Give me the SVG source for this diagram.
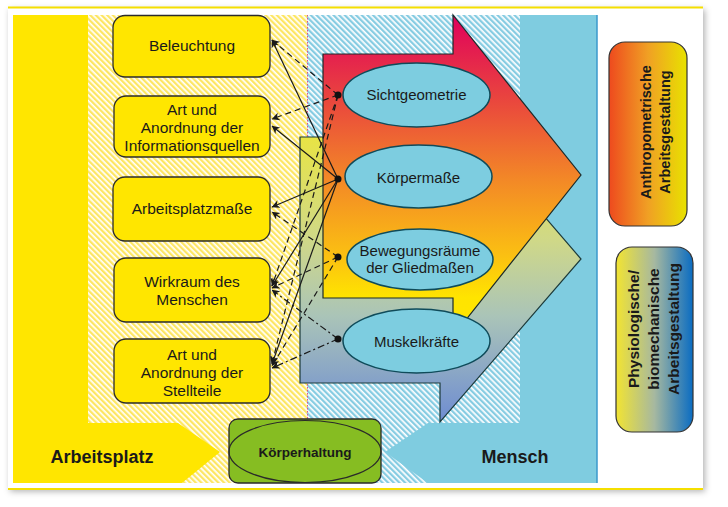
<svg xmlns="http://www.w3.org/2000/svg" width="728" height="507" viewBox="0 0 728 507">
<defs>
<style>
text{font-family:"Liberation Sans",Arial,sans-serif;fill:#1a1a1a;text-anchor:middle}
.bx{fill:#ffe600;stroke:#2b2b2b;stroke-width:1.3}
.bt{font-size:15.5px}
.el{fill:#7dcde0;stroke:#0f4b5a;stroke-width:1.5}
.et{font-size:15px}
.c{fill:none;stroke:#1a1a1a;stroke-width:1.2;marker-end:url(#ah)}
.d{stroke-dasharray:6 4}
.dd{stroke-dasharray:7 3 2 3}
.dot{fill:#111}
.big{font-size:18px;font-weight:bold}
.lg{font-weight:bold}
</style>
<pattern id="hy" width="4" height="4" patternUnits="userSpaceOnUse" patternTransform="rotate(45)">
<rect width="4" height="4" fill="#fde663"/>
<rect width="4" height="1.7" fill="#ffffff"/>
</pattern>
<pattern id="hb" width="4" height="4" patternUnits="userSpaceOnUse" patternTransform="rotate(45)">
<rect width="4" height="4" fill="#86cce2"/>
<rect width="4" height="1.7" fill="#ffffff"/>
</pattern>
<linearGradient id="g1" gradientUnits="userSpaceOnUse" x1="0" y1="15" x2="0" y2="336">
<stop offset="0" stop-color="#e0005c"/>
<stop offset="0.28" stop-color="#ea4a3c"/>
<stop offset="0.52" stop-color="#f38a26"/>
<stop offset="0.75" stop-color="#fbc012"/>
<stop offset="0.88" stop-color="#ffe400"/>
<stop offset="1" stop-color="#ffe800"/>
</linearGradient>
<linearGradient id="g2" gradientUnits="userSpaceOnUse" x1="0" y1="120" x2="0" y2="422">
<stop offset="0" stop-color="#ece63a"/>
<stop offset="0.4" stop-color="#cfd888"/>
<stop offset="0.65" stop-color="#aac4b8"/>
<stop offset="1" stop-color="#6e8cd2"/>
</linearGradient>
<linearGradient id="g3" x1="0" y1="0" x2="1" y2="0">
<stop offset="0" stop-color="#ee4a1e"/>
<stop offset="0.5" stop-color="#f0a024"/>
<stop offset="1" stop-color="#e8e200"/>
</linearGradient>
<linearGradient id="g4" x1="0" y1="0" x2="1" y2="0">
<stop offset="0" stop-color="#f2e432"/>
<stop offset="0.5" stop-color="#a6b8a0"/>
<stop offset="1" stop-color="#0a6cc2"/>
</linearGradient>
<marker id="ah" viewBox="0 0 10 10" refX="9.5" refY="5" markerWidth="9" markerHeight="8" markerUnits="userSpaceOnUse" orient="auto">
<path d="M0,0 L10,5 L0,10 L3,5 z" fill="#1a1a1a"/>
</marker>
<filter id="sh" x="-5%" y="-5%" width="110%" height="110%">
<feDropShadow dx="2" dy="2" stdDeviation="3" flood-color="#000" flood-opacity="0.3"/>
</filter>
</defs>

<g id="background">
<rect x="8" y="7.5" width="695" height="482" fill="#ffffff" filter="url(#sh)"/>
<line x1="8" y1="7.5" x2="703" y2="7.5" stroke="#f5df00" stroke-width="2"/>
<line x1="8" y1="489" x2="703" y2="489" stroke="#f5df00" stroke-width="2"/>
<rect x="88" y="15" width="219" height="468" fill="url(#hy)"/>
<rect x="307" y="15" width="213" height="468" fill="url(#hb)"/>
<polygon points="13,15 88,15 88,423 178,423 220,452 182,483 13,483" fill="#ffe600"/>
<polygon points="520,15 597,15 597,483 428,483 385,452 428,423 520,423" fill="#7fcce0"/>
<line x1="597" y1="15" x2="597" y2="483" stroke="#3a98cc" stroke-width="1.5"/>
<line x1="307.5" y1="15" x2="307.5" y2="419" stroke="#e0508a" stroke-width="1" stroke-dasharray="1.5 1.5"/>
</g>

<g id="arrow-physiologisch">
<polygon points="300,137 440,137 440,95 581,259 440,422 440,383 300,383" fill="url(#g2)" stroke="#1c3a3a" stroke-width="1.2"/>
</g>
<g id="arrow-anthropometrisch">
<polygon points="323,54 453,54 453,15 581,175 453,336 453,298 323,298" fill="url(#g1)" stroke="#1c2a2a" stroke-width="1.2"/>
</g>

<g id="connectors">
<path class="c d" d="M338,95 L272,40"/>
<path class="c" d="M338,179 L272,40"/>
<path class="c d" d="M338,95 L272,119"/>
<path class="c" d="M338,179 L272,126"/>
<path class="c" d="M338,179 L272,207"/>
<path class="c d" d="M338,257 L272,212"/>
<path class="c d" d="M338,95 L272,286"/>
<path class="c" d="M338,179 L272,286"/>
<path class="c d" d="M338,257 L272,288"/>
<path class="c dd" d="M338,339 L272,290"/>
<path class="c d" d="M338,95 L272,364"/>
<path class="c" d="M338,179 L272,364"/>
<path class="c d" d="M338,257 L272,366"/>
<path class="c dd" d="M338,339 L272,368"/>
<circle class="dot" cx="338" cy="95" r="3.5"/>
<circle class="dot" cx="338" cy="179" r="3.5"/>
<circle class="dot" cx="338" cy="257" r="3.5"/>
<circle class="dot" cx="338" cy="339" r="3.5"/>
</g>

<g id="node-beleuchtung">
<rect class="bx" x="113" y="15.5" width="157" height="61.5" rx="12"/>
<text class="bt" x="192" y="51">Beleuchtung</text>
</g>
<g id="node-informationsquellen">
<rect class="bx" x="114" y="96" width="156" height="61" rx="12"/>
<text class="bt" x="192" y="115">Art und</text>
<text class="bt" x="192" y="133">Anordnung der</text>
<text class="bt" x="192" y="151">Informationsquellen</text>
</g>
<g id="node-arbeitsplatzmasse">
<rect class="bx" x="113" y="177" width="157" height="64" rx="12"/>
<text class="bt" x="192" y="213.5">Arbeitsplatzmaße</text>
</g>
<g id="node-wirkraum">
<rect class="bx" x="114" y="258" width="156" height="64" rx="12"/>
<text class="bt" x="192" y="287">Wirkraum des</text>
<text class="bt" x="192" y="305">Menschen</text>
</g>
<g id="node-stellteile">
<rect class="bx" x="114" y="339" width="156" height="64" rx="12"/>
<text class="bt" x="192" y="360">Art und</text>
<text class="bt" x="192" y="378">Anordnung der</text>
<text class="bt" x="192" y="396">Stellteile</text>
</g>

<g id="node-sichtgeometrie">
<ellipse class="el" cx="416.5" cy="95" rx="73.5" ry="32"/>
<text class="et" x="416.5" y="100">Sichtgeometrie</text>
</g>
<g id="node-koerpermasse">
<ellipse class="el" cx="418.5" cy="176.5" rx="73.5" ry="31.5"/>
<text class="et" x="418.5" y="182.5">Körpermaße</text>
</g>
<g id="node-bewegungsraeume">
<ellipse class="el" cx="420" cy="259.5" rx="73" ry="30.5"/>
<text class="et" x="420" y="256">Bewegungsräume</text>
<text class="et" x="420" y="273">der Gliedmaßen</text>
</g>
<g id="node-muskelkraefte">
<ellipse class="el" cx="416.5" cy="341" rx="73.5" ry="32"/>
<text class="et" x="416.5" y="347">Muskelkräfte</text>
</g>

<g id="node-arbeitsplatz">
<text class="big" x="102" y="463">Arbeitsplatz</text>
</g>
<g id="node-mensch">
<text class="big" x="515" y="463">Mensch</text>
</g>
<g id="node-koerperhaltung">
<rect x="229" y="419" width="152" height="64" rx="9" fill="#86bd22" stroke="#2a2a2a" stroke-width="1.3"/>
<ellipse cx="305" cy="451.5" rx="76" ry="31" fill="none" stroke="#2a2a2a" stroke-width="1.2"/>
<text x="305" y="457" font-size="13.5" font-weight="bold">Körperhaltung</text>
</g>

<g id="legend-anthropometrisch">
<rect x="609" y="42" width="78" height="184" rx="16" fill="url(#g3)" stroke="#333" stroke-width="1.2"/>
<g transform="translate(0,132) rotate(-90)">
<text class="lg" x="0" y="651" font-size="14.5">Anthropometrische</text>
<text class="lg" x="0" y="670" font-size="14.5">Arbeitsgestaltung</text>
</g>
</g>
<g id="legend-physiologisch">
<rect x="616" y="247" width="77" height="185" rx="16" fill="url(#g4)" stroke="#333" stroke-width="1.2"/>
<g transform="translate(0,329) rotate(-90)">
<text class="lg" x="0" y="639" font-size="15.5">Physiologische/</text>
<text class="lg" x="0" y="659" font-size="15.5">biomechanische</text>
<text class="lg" x="0" y="679" font-size="15.5">Arbeitsgestaltung</text>
</g>
</g>
</svg>
